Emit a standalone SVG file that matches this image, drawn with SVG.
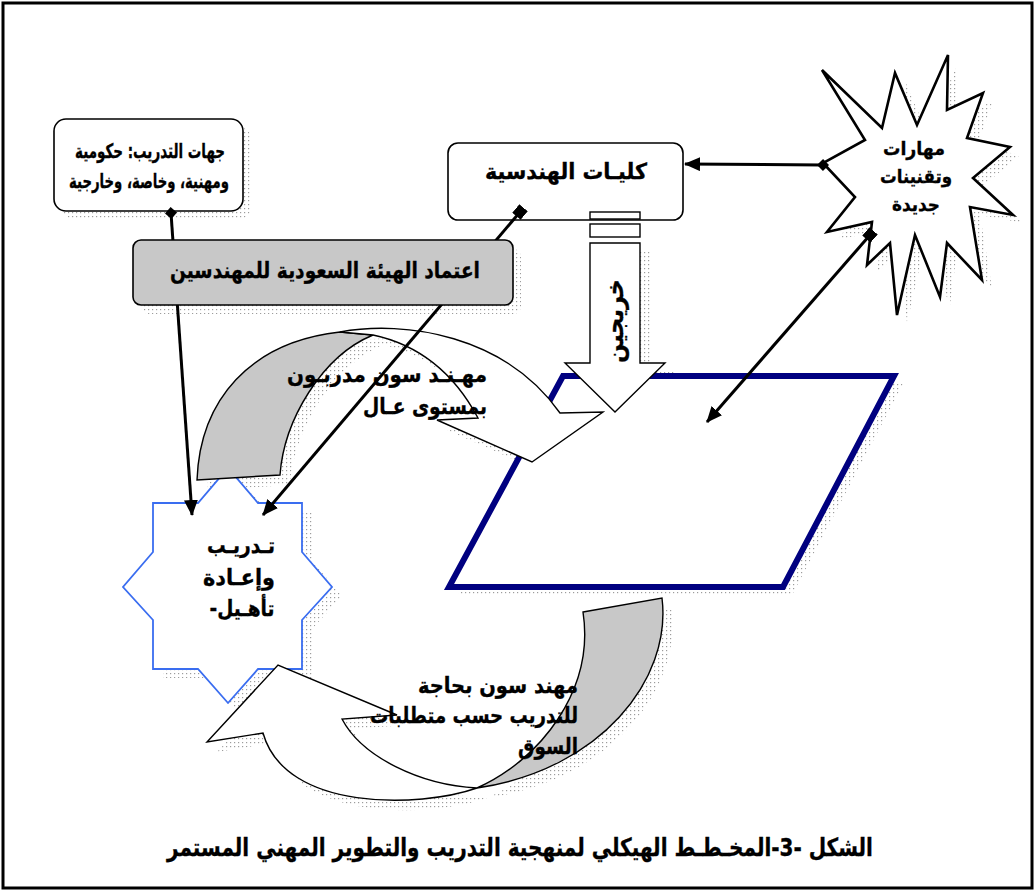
<svg xmlns="http://www.w3.org/2000/svg" xmlns:xlink="http://www.w3.org/1999/xlink" width="1036" height="892" viewBox="0 0 1036 892">
<style>
.t{font-family:"DejaVu Sans",sans-serif;font-weight:bold;fill:#000;stroke:#000;stroke-width:0.35;direction:rtl;text-anchor:middle}
.sh{fill:url(#dots);stroke:none}
.box{fill:#fff;stroke:#000;stroke-width:1.6}
.arrowshape{stroke:#000;stroke-width:1.4;stroke-linejoin:miter}
.conn{fill:none;stroke:#000;stroke-width:3}
</style>
<defs>
<pattern id="dots" width="4" height="4" patternUnits="userSpaceOnUse"><rect x="0" y="0" width="1.2" height="1.2" fill="#9c9c9c"/></pattern>
<marker id="arr" markerUnits="userSpaceOnUse" markerWidth="16" markerHeight="14" viewBox="0 0 16 14" refX="15" refY="7" orient="auto"><path d="M0,0 L16,7 L0,14 Z" fill="#000"/></marker>
<marker id="dia" markerUnits="userSpaceOnUse" markerWidth="12" markerHeight="12" viewBox="0 0 12 12" refX="6" refY="6" orient="auto"><path d="M6,0 L12,6 L6,12 L0,6 Z" fill="#000"/></marker>
<marker id="sq" markerUnits="userSpaceOnUse" markerWidth="11" markerHeight="11" viewBox="0 0 11 11" refX="5.5" refY="5.5" orient="auto"><rect x="0" y="0" width="11" height="11" fill="#000"/></marker>
<polygon id="g-para" points="563,376 894,376 783,587 449,587"/>
<polygon id="g-star" points="153,503 198,503 228,468 258,503 302,503 302,552 332,587 302,620 302,669 258,669 228,703 198,669 153,669 153,620 123,587 153,552"/>
<polygon id="g-burst" points="822,70 865,140 823,163 855,197 827,232 872,222 867,265 890,243 897,315 915,235 940,297 947,243 982,280 970,207 1013,215 973,178 1010,147 967,138 983,93 947,110 948,55 917,125 895,73 882,128"/>
<path id="g-upper" d="M197,480 C200,400 250,342 340,332 C405,320 505,335 560,413 L603,412 L532,462 L437,420 L478,418 C455,375 420,345 373,335 C322,356 284,420 280,475 Z"/>
<path id="g-lower" d="M583,612 L662,598 C672,680 600,770 477,788 C420,808 285,812 263,733 L207,742 L278,665 L397,715 L342,719 C362,757 420,785 477,788 C540,760 595,690 583,612 Z"/>
<path id="g-down" d="M590,243 L640,243 L640,363 L665,363 L615,412 L565,363 L590,363 Z"/>
<rect id="g-tl" x="54" y="119" width="189" height="92" rx="12"/>
<rect id="g-mid" x="448" y="143" width="235" height="77" rx="10"/>
<rect id="g-gray" x="133" y="240" width="380" height="65" rx="8"/>
</defs>

<rect x="0" y="0" width="1036" height="892" fill="#fff"/>
<rect x="3" y="3" width="1029" height="885" fill="none" stroke="#000" stroke-width="3"/>

<g id="shadows">
<use xlink:href="#g-para" class="sh" transform="translate(9,8)"/>
<use xlink:href="#g-star" class="sh" transform="translate(10,9)"/>
<use xlink:href="#g-burst" class="sh" transform="translate(10,8)"/>
<use xlink:href="#g-upper" class="sh" transform="translate(10,10)"/>
<use xlink:href="#g-lower" class="sh" transform="translate(10,10)"/>
<use xlink:href="#g-down" class="sh" transform="translate(12,8)"/>
<use xlink:href="#g-tl" class="sh" transform="translate(8,8)"/>
<use xlink:href="#g-gray" class="sh" transform="translate(8,9)"/>
</g>

<g id="graduates-target">
<use xlink:href="#g-para" fill="#fff" stroke="#000080" stroke-width="6" stroke-linejoin="miter"/>
</g>

<g id="training-star">
<use xlink:href="#g-star" fill="#fff" stroke="#3a6df0" stroke-width="1.8"/>
<text class="t" x="241" y="553" font-size="22" textLength="68" lengthAdjust="spacingAndGlyphs">تـدريـب</text>
<text class="t" x="239" y="585" font-size="22" textLength="72" lengthAdjust="spacingAndGlyphs">وإعـادة</text>
<text class="t" x="242" y="616" font-size="22" textLength="65" lengthAdjust="spacingAndGlyphs">تأهـيل-</text>
</g>

<g id="new-skills">
<use xlink:href="#g-burst" fill="#fff" stroke="#000" stroke-width="2.6" stroke-linejoin="miter"/>
<text class="t" x="914" y="155" font-size="19" textLength="62" lengthAdjust="spacingAndGlyphs">مهارات</text>
<text class="t" x="916" y="183" font-size="19" textLength="72" lengthAdjust="spacingAndGlyphs">وتقنينات</text>
<text class="t" x="916" y="211" font-size="19" textLength="48" lengthAdjust="spacingAndGlyphs">جديدة</text>
</g>

<g id="training-bodies">
<use xlink:href="#g-tl" class="box"/>
<text class="t" x="150" y="158" font-size="20" textLength="150" lengthAdjust="spacingAndGlyphs">جهات التدريب: حكومية</text>
<text class="t" x="149" y="188" font-size="20" textLength="160" lengthAdjust="spacingAndGlyphs">ومهنية، وخاصة، وخارجية</text>
</g>

<g id="engineering-colleges">
<use xlink:href="#g-mid" class="box"/>
<text class="t" x="566" y="179" font-size="22" textLength="162" lengthAdjust="spacingAndGlyphs">كليـات الهندسية</text>
</g>

<g id="graduates-arrow">
<rect x="590" y="212" width="50" height="7" fill="#fff" stroke="#000" stroke-width="1.4"/>
<rect x="590" y="224" width="50" height="13" fill="#fff" stroke="#000" stroke-width="1.4"/>
<use xlink:href="#g-down" fill="#fff" class="arrowshape"/>
<text class="t" transform="translate(623,321) rotate(-90)" font-size="24" textLength="84" lengthAdjust="spacingAndGlyphs">خريجين</text>
</g>

<g id="trained-engineers-arrow">
<path d="M197,480 C200,400 250,342 340,332 L373,335 C322,356 284,420 280,475 Z" fill="#c8c8c8" class="arrowshape"/>
<path d="M340,332 C405,320 505,335 560,413 L603,412 L532,462 L437,420 L478,418 C455,375 420,345 373,335 Z" fill="#fff" class="arrowshape"/>
<text class="t" x="387" y="382" font-size="22" textLength="200" lengthAdjust="spacingAndGlyphs">مهـنـد سون مدربـون</text>
<text class="t" x="425" y="414" font-size="22" textLength="124" lengthAdjust="spacingAndGlyphs">بمستوى عـال</text>
</g>

<g id="engineers-need-training-arrow">
<path d="M583,612 L662,598 C672,680 600,770 477,788 C540,760 595,690 583,612 Z" fill="#c8c8c8" class="arrowshape"/>
<path d="M477,788 C420,808 285,812 263,733 L207,742 L278,665 L397,715 L342,719 C362,757 420,785 477,788 Z" fill="#fff" class="arrowshape"/>
<text class="t" x="498" y="693" font-size="22" textLength="160" lengthAdjust="spacingAndGlyphs">مهند سون بحاجة</text>
<text class="t" x="474" y="723" font-size="22" textLength="208" lengthAdjust="spacingAndGlyphs">للتدريب حسب متطلبات</text>
<text class="t" x="548" y="754" font-size="22" textLength="60" lengthAdjust="spacingAndGlyphs">السوق</text>
</g>

<g id="connectors">
<line class="conn" x1="171" y1="213" x2="192" y2="515" marker-start="url(#dia)" marker-end="url(#arr)"/>
<line class="conn" x1="520" y1="212" x2="263" y2="515" marker-start="url(#sq)" marker-end="url(#arr)"/>
<line class="conn" x1="823" y1="165" x2="685" y2="164" marker-start="url(#dia)" marker-end="url(#arr)"/>
<line class="conn" x1="870" y1="235" x2="707" y2="422" marker-start="url(#sq)" marker-end="url(#arr)"/>
</g>

<g id="saudi-council">
<use xlink:href="#g-gray" fill="#c8c8c8" stroke="#000" stroke-width="1.6"/>
<text class="t" x="325" y="278" font-size="22" textLength="310" lengthAdjust="spacingAndGlyphs">اعتماد الهيئة السعودية للمهندسين</text>
</g>

<g id="caption">
<text class="t" x="520" y="856" font-size="25" textLength="706" lengthAdjust="spacingAndGlyphs">الشكل -3-المخـطـط الهيكلي لمنهجية التدريب والتطوير المهني المستمر</text>
</g>
</svg>
